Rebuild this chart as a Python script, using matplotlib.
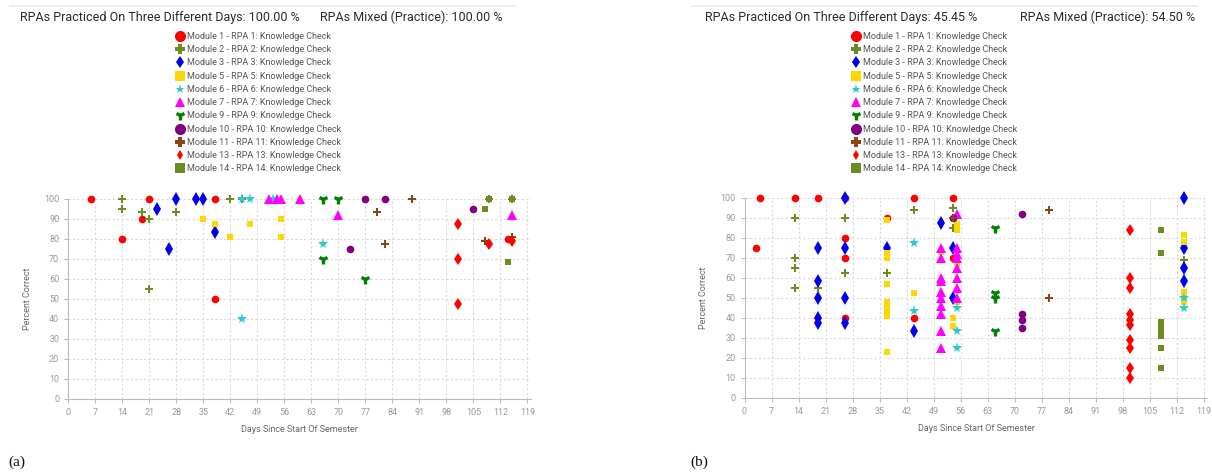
import matplotlib.pyplot as plt
from matplotlib.lines import Line2D

plt.rcParams['font.family'] = ['Roboto', 'DejaVu Sans']

# legend entries (one per RPA)
labels = ['Module 1 - RPA 1: Knowledge Check', 'Module 2 - RPA 2: Knowledge Check',
          'Module 3 - RPA 3: Knowledge Check', 'Module 5 - RPA 5: Knowledge Check',
          'Module 6 - RPA 6: Knowledge Check', 'Module 7 - RPA 7: Knowledge Check',
          'Module 9 - RPA 9: Knowledge Check', 'Module 10 - RPA 10: Knowledge Check',
          'Module 11 - RPA 11: Knowledge Check', 'Module 13 - RPA 13: Knowledge Check',
          'Module 14 - RPA 14: Knowledge Check']

# ---- panel (a): (days, percent correct) per RPA ----
a_m1 = ([6, 14, 19, 21, 38, 38, 114], [100, 80, 90, 100, 100, 50, 80])
a_m2 = ([14, 14, 19, 21, 21, 28, 42, 45, 109, 115], [100, 95, 93.75, 90, 55, 93.75, 100, 100, 100, 100])
a_m3 = ([23, 26, 28, 33, 35, 38], [95, 75, 100, 100, 100, 83.3])
a_m5 = ([35, 38, 42, 47, 55, 55], [90, 87.5, 81.25, 87.5, 90, 81.25])
a_m6 = ([45, 47, 45, 53, 66], [100, 100, 40, 100, 77.3])
a_m7 = ([52, 54, 55, 60, 70, 115], [100, 100, 100, 100, 92, 92])
a_m9 = ([66, 70, 66, 77], [100, 100, 70, 60])
a_m10 = ([73, 77, 82, 105], [75, 100, 100, 95])
a_m11 = ([80, 82, 89, 108, 115], [93.75, 77.5, 100, 79, 81])
a_m13 = ([101, 101, 101, 109, 115], [87.5, 70, 47.5, 77.5, 79])
a_m14 = ([108, 109, 115, 114], [95, 100, 100, 68.75])

# ---- panel (b) ----
b_m1 = ([3, 4, 13, 19, 26, 26, 26, 26, 37, 44, 44, 54, 54],
        [75, 100, 100, 100, 100, 80, 70, 40, 90, 100, 40, 100, 70])
b_m2 = ([13, 13, 13, 13, 19, 26, 26, 37, 44, 54, 54, 114],
        [90, 70, 65, 55, 55, 90, 62.5, 62.5, 93.75, 95, 85, 68.75])
b_m3 = ([19, 19, 19, 19, 19, 26, 26, 26, 26, 37, 44, 51, 54, 54, 114, 114, 114, 114],
        [75, 58.3, 50, 40, 37.5, 100, 75, 50, 37.5, 75, 33.3, 87.5, 75, 50, 100, 75, 65, 58.3])
b_m5 = ([37, 37, 37, 37, 37, 37, 37, 37, 37, 44, 51, 54, 54, 55, 55, 55, 55, 114, 114, 114, 114, 114],
        [89, 72.5, 70, 57, 48, 46, 44, 41, 23, 52.5, 72.7, 40, 36, 87, 84, 67, 48, 81.25, 77.8, 53, 51, 47.7])
b_m6 = ([44, 44, 55, 55, 55, 114, 114], [77.3, 43.3, 45, 33.3, 25, 50, 45])
b_m7 = ([51, 51, 51, 51, 51, 51, 51, 51, 51, 51, 55, 55, 55, 55, 55, 55, 55, 55],
        [75, 70, 60, 58.3, 53, 50, 46, 42, 33.3, 25, 92, 75, 72, 70, 65, 60, 55, 50])
b_m9 = ([65, 65, 65, 65], [85, 52.5, 50, 33.3])
b_m10 = ([54, 72, 72, 72, 72], [90, 91.7, 41.7, 39, 35])
b_m11 = ([54, 79, 79], [90, 93.75, 50])
b_m13 = ([100, 100, 100, 100, 100, 100, 100, 100, 100, 100],
         [83.8, 60, 55, 41.7, 39, 36.3, 28.8, 25, 15, 10])
b_m14 = ([108, 108, 108, 108, 108, 108, 108, 108], [83.8, 72.5, 38, 36, 34, 31, 25, 14.7])

panel_a = [a_m1, a_m2, a_m3, a_m5, a_m6, a_m7, a_m9, a_m10, a_m11, a_m13, a_m14]
panel_b = [b_m1, b_m2, b_m3, b_m5, b_m6, b_m7, b_m9, b_m10, b_m11, b_m13, b_m14]

markers = ['o', 'P', 'd', 's', '*', '^', '1', 'o', 'P', 'd', 's']
colors = ['#ff0000', '#6b8e23', '#0000ee', '#ffd700', '#2ccad0', '#ff00ff',
          '#008000', '#800080', '#8b4513', '#ff0000', '#6b8e23']
sizes = [5.5, 6, 6.8, 4.8, 8, 6.5, 6.5, 5.5, 6, 6.3, 4.8]
legend_sizes = [8, 7.5, 6, 7.2, 6.5, 7.5, 7, 8, 7.5, 5.5, 7.2]

W, H = 1212, 475
fig = plt.figure(figsize=(W / 100, H / 100), dpi=100)


def draw_panel(left_px, zero_px, series, title1, title2, t1_x, t2_x, letter, letter_x):
    ax = fig.add_axes([left_px / W, 1 - zero_px / H, 463 / W, 200 / H])
    for (days, pct), lab, mk, col, ms in zip(series, labels, markers, colors, sizes):
        kw = dict(linestyle='none', marker=mk, color=col, markersize=ms,
                  label=lab, clip_on=False)
        kw['markeredgewidth'] = 2.4 if mk == '1' else 0
        ax.plot(days, pct, **kw)

    ax.set_xlim(0, 120)
    ax.set_ylim(0, 100)
    ax.set_xticks(range(0, 120, 7))
    ax.set_yticks(range(0, 101, 10))
    ax.grid(True, color='#d9d9d9', linestyle=(0, (2, 2)), linewidth=0.8)
    ax.set_axisbelow(True)
    for s in ['top', 'right']:
        ax.spines[s].set_visible(False)
    for s in ['left', 'bottom']:
        ax.spines[s].set_color('#bbbbbb')
    ax.tick_params(colors='#bbbbbb', labelcolor='#999999', labelsize=6.5, length=3, width=0.8)
    ax.set_xlabel('Days Since Start Of Semester', fontsize=6.5, color='#666666', labelpad=6)
    ax.set_ylabel('Percent Correct', fontsize=6.5, color='#666666', labelpad=9)

    leg = ax.legend(loc='upper left', bbox_to_anchor=((left_px + 107) / W, 1 - 32 / H),
                    bbox_transform=fig.transFigure, frameon=False, fontsize=6.5,
                    labelspacing=0.47, handlelength=1.0, handletextpad=0.25,
                    borderpad=0, borderaxespad=0, labelcolor='#555555')
    for h, ms in zip(leg.legend_handles, legend_sizes):
        h.set_markersize(ms)

    fig.text(t1_x / W, 1 - 17 / H, title1, fontsize=9, color='#2a2a2a', va='center')
    fig.text(t2_x / W, 1 - 17 / H, title2, fontsize=9, color='#2a2a2a', va='center')
    fig.add_artist(Line2D([(letter_x + 2) / W, (letter_x + 507) / W], [1 - 6 / H, 1 - 6 / H],
                          color='#eeeeee', linewidth=1.5, transform=fig.transFigure))
    fig.text(letter_x / W, 1 - 462 / H, letter, fontsize=11, family='Liberation Serif',
             va='center', color='#111111')
    return ax


draw_panel(68.3, 399, panel_a,
           'RPAs Practiced On Three Different Days: 100.00 %',
           'RPAs Mixed (Practice): 100.00 %', 20, 320, '(a)', 8)
draw_panel(744.5, 397.7, panel_b,
           'RPAs Practiced On Three Different Days: 45.45 %',
           'RPAs Mixed (Practice): 54.50 %', 705, 1020, '(b)', 690)

fig.savefig('out.png', dpi=100)
